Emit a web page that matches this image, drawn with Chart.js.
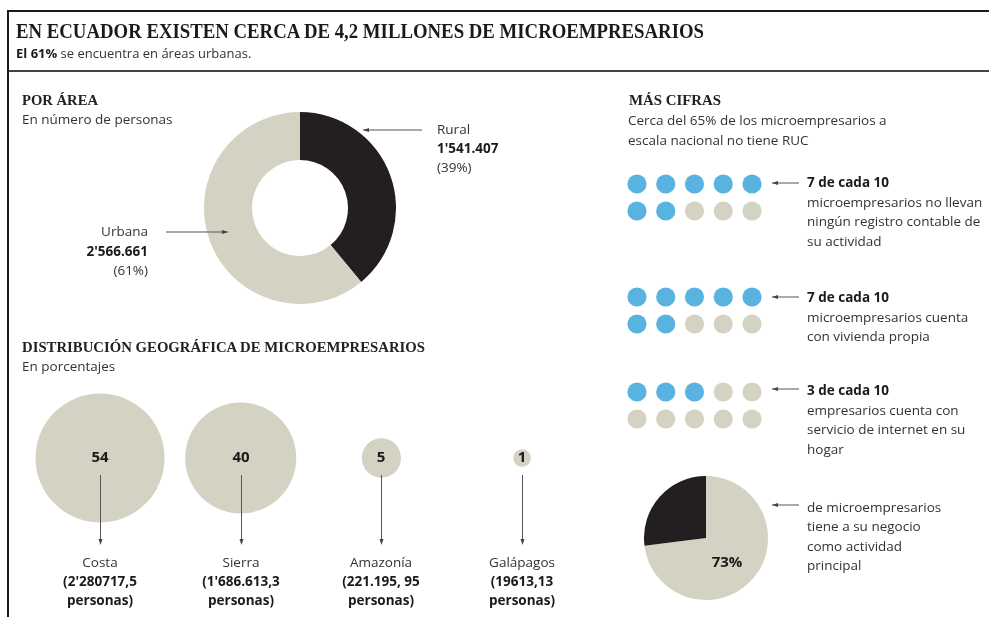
<!DOCTYPE html>
<html><head><meta charset="utf-8">
<script src="https://cdn.jsdelivr.net/npm/chart.js@4.4.1/dist/chart.umd.min.js"></script>
<style>
html,body{margin:0;padding:0;background:#fff;}
#wrap{position:relative;width:989px;height:617px;overflow:hidden;background:#fff;}
canvas{position:absolute;}
#ov{position:absolute;left:0;top:0;width:989px;height:617px;pointer-events:none;}
</style></head>
<body><div id="wrap">
<canvas id="donut" width="192" height="192" style="left:204px;top:112px"></canvas>
<canvas id="geo" width="570" height="237" style="left:20px;top:380px"></canvas>
<canvas id="g1" width="140" height="51" style="left:625px;top:172px"></canvas>
<canvas id="g2" width="140" height="51" style="left:625px;top:285px"></canvas>
<canvas id="g3" width="140" height="51" style="left:625px;top:380px"></canvas>
<canvas id="pie" width="124" height="124" style="left:644px;top:476px"></canvas>
<svg id="ov" xmlns="http://www.w3.org/2000/svg" width="989" height="617"></svg>
</div>
<script>
// ---------- DATA ----------
const areaLabels = ['Rural', 'Urbana'];
const areaPersons = ["1'541.407", "2'566.661"];
const areaPct = [39, 61];

const geoRegions = ['Costa', 'Sierra', 'Amazonía', 'Galápagos'];
const geoPct = [54, 40, 5, 1];
const geoPersons = ["(2'280717,5", "(1'686.613,3", "(221.195, 95", "(19613,13"];

const ratioCounts = [7, 7, 3];
const ratioHeads = ['7 de cada 10', '7 de cada 10', '3 de cada 10'];
const ratioTexts = [
  ['microempresarios no llevan', 'ningún registro contable de', 'su actividad'],
  ['microempresarios cuenta', 'con vivienda propia'],
  ['empresarios cuenta con', 'servicio de internet en su', 'hogar']
];
const mainActivityPct = [73, 27];
const mainActivityText = ['de microempresarios', 'tiene a su negocio', 'como actividad', 'principal'];

// ---------- STYLE ----------
const DARK = '#231f20', BEIGE = '#d3d2c3', BLUE = '#58b3e0';
const SANS = '"Open Sans", "Noto Sans", sans-serif';
const SERIF = '"Liberation Serif", "DejaVu Serif", serif';
const TXT = '#333';

// ---------- SVG helpers ----------
const svg = document.getElementById('ov');
const NS = 'http://www.w3.org/2000/svg';
function T(x, y, s, o) {
  o = o || {};
  const t = document.createElementNS(NS, 'text');
  t.setAttribute('x', x); t.setAttribute('y', y);
  t.setAttribute('font-family', o.family || SANS);
  t.setAttribute('font-size', o.size || 13.5);
  t.setAttribute('font-weight', o.weight || 'normal');
  t.setAttribute('fill', o.fill || TXT);
  if (o.anchor) t.setAttribute('text-anchor', o.anchor);
  if (o.w) { t.setAttribute('textLength', o.w); t.setAttribute('lengthAdjust', 'spacingAndGlyphs'); }
  if (Array.isArray(s)) {
    s.forEach(seg => {
      const ts = document.createElementNS(NS, 'tspan');
      ts.textContent = seg[0];
      if (seg[1]) ts.setAttribute('font-weight', seg[1]);
      if (seg[2]) ts.setAttribute('fill', seg[2]);
      t.appendChild(ts);
    });
  } else t.textContent = s;
  svg.appendChild(t);
  return t;
}
function L(x1, y1, x2, y2, c, w) {
  const l = document.createElementNS(NS, 'line');
  l.setAttribute('x1', x1); l.setAttribute('y1', y1); l.setAttribute('x2', x2); l.setAttribute('y2', y2);
  l.setAttribute('stroke', c || '#555'); l.setAttribute('stroke-width', w || 1);
  svg.appendChild(l);
}
function arrowH(x1, x2, y) { // arrow pointing to x2
  L(x1, y, x2, y, '#555', 1);
  const d = x2 < x1 ? 1 : -1;
  const p = document.createElementNS(NS, 'polygon');
  p.setAttribute('points', `${x2},${y} ${x2 + d * 6},${y - 2} ${x2 + d * 6},${y + 2}`);
  p.setAttribute('fill', '#444');
  svg.appendChild(p);
}

// frame
L(7, 11, 989, 11, '#1a1a1a', 2);
L(7, 71, 989, 71, '#444', 2);
L(8, 10, 8, 617, '#1a1a1a', 2);

// titles
T(16, 38, 'EN ECUADOR EXISTEN CERCA DE 4,2 MILLONES DE MICROEMPRESARIOS', {family: SERIF, weight: 'bold', size: 21, fill: '#1a1a1a', w: 688});
T(16, 58, [['El 61%', 'bold', '#1a1a1a'], [' se encuentra en áreas urbanas.']], {size: 13});

T(22, 105, 'POR ÁREA', {family: SERIF, weight: 'bold', size: 15.5, fill: '#222', w: 76});
T(22, 124, 'En número de personas', {size: 13.5});
T(22, 352, 'DISTRIBUCIÓN GEOGRÁFICA DE MICROEMPRESARIOS', {family: SERIF, weight: 'bold', size: 15.5, fill: '#222', w: 403});
T(22, 371, 'En porcentajes', {size: 13.5});
T(629, 105, 'MÁS CIFRAS', {family: SERIF, weight: 'bold', size: 15.5, fill: '#222', w: 92});
T(628, 125, 'Cerca del 65% de los microempresarios a', {size: 13.5});
T(628, 145, 'escala nacional no tiene RUC', {size: 13.5});

// donut labels
arrowH(422, 363, 130);
T(437, 134, areaLabels[0], {size: 13.5});
T(437, 153, areaPersons[0], {size: 13.5, weight: 'bold', fill: '#1a1a1a'});
T(437, 172, '(' + areaPct[0] + '%)', {size: 13.5});
arrowH(166, 228, 232);
T(148, 236, areaLabels[1], {size: 13.5, anchor: 'end'});
T(148, 256, areaPersons[1], {size: 13.5, weight: 'bold', fill: '#1a1a1a', anchor: 'end'});
T(148, 275, '(' + areaPct[1] + '%)', {size: 13.5, anchor: 'end'});

// ratio texts
const ratioY = [187, 302, 395];
const arrowY = [183, 297, 389];
ratioHeads.forEach((h, i) => {
  arrowH(799, 772, arrowY[i]);
  T(807, ratioY[i], h, {size: 13.5, weight: 'bold', fill: '#1a1a1a'});
  ratioTexts[i].forEach((s, j) => T(807, ratioY[i] + 19.5 * (j + 1), s, {size: 13.5}));
});
arrowH(799, 772, 505);
mainActivityText.forEach((s, j) => T(807, 512 + 19.3 * j, s, {size: 13.5}));

// ---------- CHARTS ----------
const base = {responsive: false, animation: false, events: [],
  plugins: {legend: {display: false}, tooltip: {enabled: false}},
  layout: {padding: 0, autoPadding: false}};

new Chart(document.getElementById('donut'), {
  type: 'doughnut',
  data: {labels: areaLabels, datasets: [{data: areaPct, backgroundColor: [DARK, BEIGE], borderWidth: 0}]},
  options: Object.assign({}, base, {cutout: '50%'})
});

new Chart(document.getElementById('pie'), {
  type: 'pie',
  data: {labels: ['Sí', 'No'], datasets: [{data: mainActivityPct, backgroundColor: [BEIGE, DARK], borderWidth: 0}]},
  options: base,
  plugins: [{id: 'pct', afterDatasetsDraw(c) {
    const ctx = c.ctx; ctx.save();
    ctx.font = 'bold 15px "Open Sans"'; ctx.fillStyle = '#1a1a1a'; ctx.textAlign = 'center'; ctx.textBaseline = 'alphabetic';
    const a = c.chartArea;
    ctx.fillText(mainActivityPct[0] + '%', (a.left + a.right) / 2 + 21, (a.top + a.bottom) / 2 + 29);
    ctx.restore();
  }}]
});

// bubbles
const bubbleScale = 8.78; // px radius per sqrt(percent)
new Chart(document.getElementById('geo'), {
  type: 'bubble',
  data: {labels: geoRegions, datasets: [{
    data: geoPct.map((v, i) => ({x: i, y: 0, r: bubbleScale * Math.sqrt(v)})),
    backgroundColor: BEIGE, borderWidth: 0, clip: false}]},
  options: Object.assign({}, base, {
    scales: {
      x: {type: 'linear', display: false, min: -0.569, max: 3.483},
      y: {type: 'linear', display: false, min: -2.0, max: 0.981}
    }
  }),
  plugins: [{id: 'geoLabels', afterDatasetsDraw(c) {
    const ctx = c.ctx; const meta = c.getDatasetMeta(0);
    meta.data.forEach((pt, i) => {
      const x = Math.round(pt.x), y = pt.y;
      ctx.save();
      ctx.fillStyle = '#1a1a1a'; ctx.font = 'bold 15px "Open Sans"';
      ctx.textAlign = 'center'; ctx.textBaseline = 'middle';
      ctx.fillText(String(geoPct[i]), x, y);
      ctx.strokeStyle = '#555'; ctx.lineWidth = 1;
      ctx.beginPath(); ctx.moveTo(x + 0.5, y + 17); ctx.lineTo(x + 0.5, y + 84); ctx.stroke();
      ctx.fillStyle = '#444';
      ctx.beginPath(); ctx.moveTo(x + 0.5, y + 87); ctx.lineTo(x - 1.5, y + 81); ctx.lineTo(x + 2.5, y + 81); ctx.closePath(); ctx.fill();
      ctx.textBaseline = 'alphabetic';
      ctx.fillStyle = TXT; ctx.font = '13.5px "Open Sans"';
      ctx.fillText(geoRegions[i], x, y + 109);
      ctx.fillStyle = '#1a1a1a'; ctx.font = 'bold 13.5px "Open Sans"';
      ctx.fillText(geoPersons[i], x, y + 128);
      ctx.fillText('personas)', x, y + 147);
      ctx.restore();
    });
  }}]
});

// dot grids
function grid(id, count) {
  const pts = [], cols = [];
  for (let k = 0; k < 10; k++) {
    pts.push({x: k % 5, y: Math.floor(k / 5)});
    cols.push(k < count ? BLUE : BEIGE);
  }
  new Chart(document.getElementById(id), {
    type: 'scatter',
    data: {datasets: [{data: pts, pointBackgroundColor: cols, pointBorderWidth: 0, pointRadius: 9.6, clip: false}]},
    options: Object.assign({}, base, {scales: {
      x: {type: 'linear', display: false, min: -0.417, max: 4.452},
      y: {type: 'linear', display: false, min: -0.444, max: 1.444, reverse: true}
    }})
  });
}
grid('g1', ratioCounts[0]);
grid('g2', ratioCounts[1]);
grid('g3', ratioCounts[2]);
</script>
</body></html>
